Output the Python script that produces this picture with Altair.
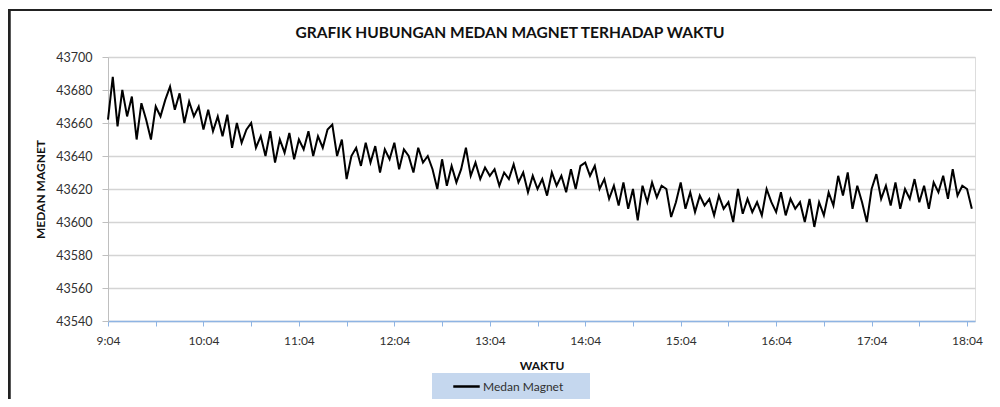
import altair as alt
import pandas as pd

# Magnetic field readings, sampled every 3 minutes starting 9:04
values = [
    43662, 43688, 43658, 43680, 43664, 43676, 43650, 43672, 43662, 43650, 43670, 43664,
    43674, 43682, 43668, 43678, 43660, 43673, 43664, 43670, 43656, 43668, 43655, 43664,
    43652, 43665, 43645, 43660, 43648, 43656, 43660, 43645, 43652, 43640, 43655, 43636,
    43650, 43642, 43654, 43638, 43650, 43644, 43655, 43640, 43652, 43645, 43656,
    43659, 43640, 43650, 43626, 43640, 43645, 43634, 43648, 43636, 43646, 43630, 43644,
    43638, 43648, 43632, 43644, 43640, 43630, 43645, 43636, 43640, 43632, 43620,
    43638, 43622, 43634, 43624, 43632, 43645, 43628, 43636, 43626, 43633, 43628, 43632,
    43622, 43630, 43626, 43635, 43624, 43630, 43618, 43628, 43620, 43626, 43616,
    43630, 43622, 43628, 43618, 43632, 43620, 43634, 43636, 43628, 43634, 43620, 43626,
    43614, 43622, 43610, 43624, 43608, 43620, 43601, 43622, 43612, 43624, 43615,
    43622, 43620, 43603, 43612, 43624, 43608, 43618, 43606, 43616, 43610, 43614, 43604,
    43616, 43608, 43612, 43600, 43620, 43605, 43614, 43606, 43612, 43604, 43620,
    43612, 43606, 43618, 43604, 43614, 43608, 43612, 43600, 43614, 43597, 43612, 43604,
    43618, 43610, 43628, 43616, 43630, 43608, 43622, 43612, 43600, 43620, 43629,
    43614, 43622, 43610, 43624, 43608, 43620, 43614, 43626, 43612, 43622, 43608, 43624,
    43618, 43628, 43614, 43632, 43616, 43622, 43620, 43608,
]
minutes = [3 * i for i in range(len(values))]  # minutes after 9:04
series_name = "Medan Magnet"
y_ticks = [43540, 43560, 43580, 43600, 43620, 43640, 43660, 43680, 43700]
x_ticks = list(range(0, 541, 30))

title_text = "GRAFIK HUBUNGAN MEDAN MAGNET TERHADAP WAKTU"
FONT = "Lato"
TXT = "#303030"

df = pd.DataFrame({"menit": minutes, "nilai": values, "seri": [series_name] * len(values)})

label_expr = (
    "datum.value % 60 == 0 ? (floor((datum.value + 544) / 60) + ':' + "
    "(((datum.value + 544) % 60) < 10 ? '0' : '') + ((datum.value + 544) % 60)) : ''"
)

W, H = 867, 264

line = alt.Chart(df).mark_line(strokeWidth=2).encode(
    x=alt.X(
        "menit:Q",
        scale=alt.Scale(domain=[0, 545], nice=False, zero=False),
        axis=alt.Axis(
            values=x_ticks, labelExpr=label_expr, labelFlush=False, title="WAKTU", grid=False,
            domainColor="#8eb4e3", domainWidth=1.5, tickColor="#8eb4e3", tickSize=5,
            labelFont=FONT, labelFontSize=12, labelColor=TXT, labelPadding=9,
            titleFont=FONT, titleFontSize=12, titleFontWeight="bold", titleColor="#111",
            titleY=44, titleBaseline="middle",
        ),
    ),
    y=alt.Y(
        "nilai:Q",
        scale=alt.Scale(domain=[43540, 43700], nice=False, zero=False),
        axis=alt.Axis(
            values=y_ticks, format="d", title="MEDAN MAGNET", grid=True, gridColor="#d4d4d4", gridWidth=1.3,
            domainColor="#bfbfbf", tickColor="#bfbfbf", tickSize=6,
            labelFont=FONT, labelFontSize=12.5, labelColor=TXT, labelPadding=10,
            titleFont=FONT, titleFontSize=12, titleFontWeight="bold", titleColor="#111",
            titleX=-68, titleY=H / 2, titleAngle=270, titleAlign="center", titleBaseline="middle",
        ),
    ),
    color=alt.Color(
        "seri:N",
        scale=alt.Scale(range=["black"]),
        legend=alt.Legend(
            orient="none", legendX=344, legendY=315, title=None, padding=0,
            symbolType="stroke", symbolSize=700, symbolStrokeWidth=2.5,
            labelFont=FONT, labelFontSize=12, labelColor=TXT, labelOffset=2,
        ),
    ),
)

deco = pd.DataFrame({"k": [0]})
legend_box = alt.Chart(deco).mark_rect(color="#c5d7ee").encode(
    x=alt.value(324), x2=alt.value(482), y=alt.value(316), y2=alt.value(343)
)
top_border = alt.Chart(deco).mark_rule(color="#222", strokeWidth=2).encode(
    x=alt.value(-104), x2=alt.value(890), y=alt.value(-47)
)
left_border = alt.Chart(deco).mark_rule(color="#222", strokeWidth=3.5).encode(
    x=alt.value(-99), y=alt.value(-48), y2=alt.value(345)
)
title_mark = alt.Chart(deco).mark_text(
    text=title_text, font=FONT, fontSize=15.5, fontWeight="bold", color="#111",
    align="center", baseline="middle",
).encode(x=alt.value(402), y=alt.value(-24))

chart = alt.layer(legend_box, top_border, left_border, title_mark, line).properties(
    width=W, height=H,
    autosize=alt.AutoSizeParams(type="none"),
    padding={"left": 100, "top": 49, "right": 17, "bottom": 78},
).configure_view(stroke=None).configure(background="white")

chart.save("out.html", embed_options={"renderer": "svg", "actions": False})
